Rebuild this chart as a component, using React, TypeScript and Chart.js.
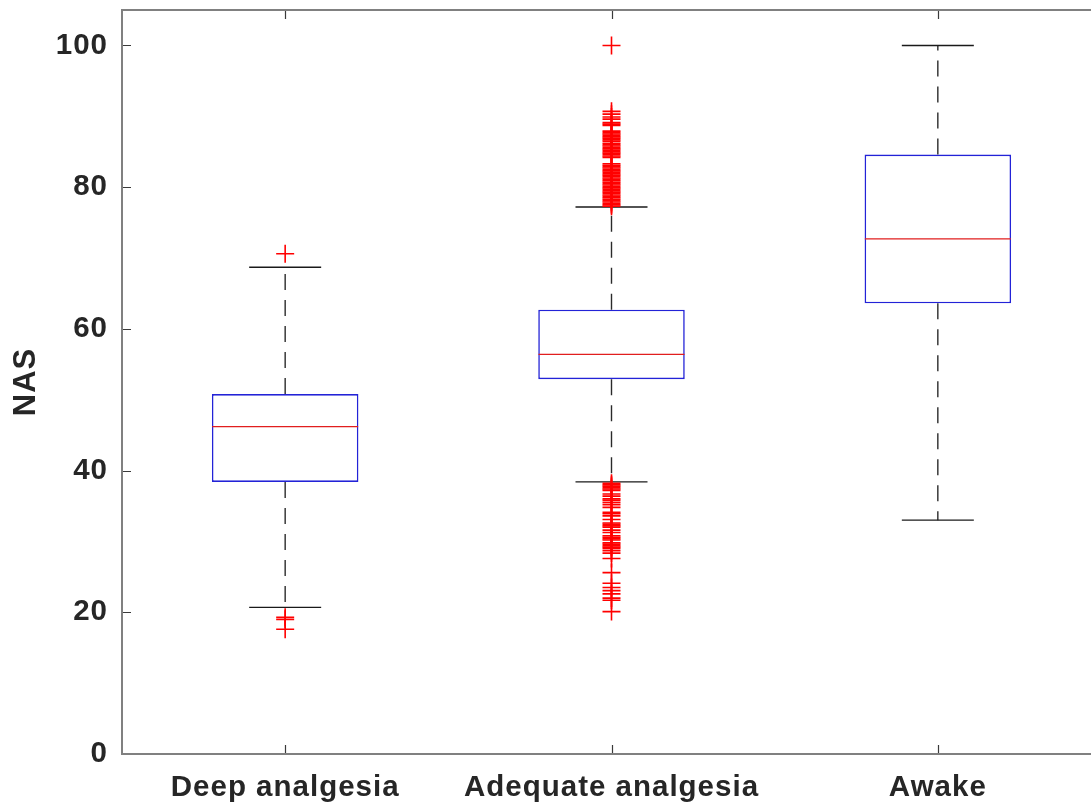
import React, { useEffect, useRef } from 'react';
import { Chart, registerables } from 'chart.js';

Chart.register(...registerables);

const categories = ['Deep analgesia', 'Adequate analgesia', 'Awake'];
const q1 = [38.4, 52.9, 63.6];
const medians = [46.2, 56.4, 72.7];
const q3 = [50.8, 62.7, 84.6];
const lowerWhisker = [20.7, 38.4, 33.0];
const upperWhisker = [68.7, 77.2, 100];
const deepOutliers = [70.6, 19.3, 19.0, 17.6];
const adequateOutliersHigh = [
  100,
  90.7, 90.3, 89.9, 89.6,
  89.1, 88.9, 88.7,
  87.9, 87.7, 87.5, 87.3, 87.1, 86.9, 86.7, 86.5,
  86.2, 86.0, 85.8, 85.6, 85.4, 85.2, 85.0, 84.8, 84.6, 84.4, 84.2,
  83.3, 83.1, 82.9, 82.7, 82.5, 82.3, 82.1, 81.9, 81.7, 81.5, 81.3, 81.1,
  80.9, 80.7, 80.5, 80.3, 80.1, 79.9, 79.7, 79.5, 79.3, 79.1, 78.9, 78.7,
  78.5, 78.3, 78.1, 77.9, 77.7, 77.5, 77.3,
];
const adequateOutliersLow = [
  38.2, 38.0, 37.8, 37.6, 37.4, 37.2,
  36.7, 36.4,
  36.0, 35.8, 35.5,
  35.2, 34.8,
  34.1, 33.9, 33.6,
  33.1,
  32.6, 32.4, 32.2, 32.0,
  31.6, 31.25,
  30.8, 30.6, 30.4, 30.2,
  29.8, 29.6, 29.4, 29.2, 29.0, 28.7,
  28.35, 27.6, 25.6, 24.1, 23.5, 23.06, 22.6, 22.0, 21.7, 20.1,
];
const awakeOutliers: number[] = [];
const yTicks = [0, 20, 40, 60, 80, 100];
const yAxisTitle = 'NAS';

const FONT = "'Liberation Sans', Arial, Helvetica, sans-serif";
const TEXT_COLOR = '#262626';

const spacingPlugin = {
  id: 'letterSpacing',
  beforeUpdate(chart: any) {
    chart.ctx.letterSpacing = '1px';
  },
  beforeDraw(chart: any) {
    chart.ctx.letterSpacing = '1px';
  },
};

const framePlugin = {
  id: 'frame',
  afterDraw(chart: any) {
    const { ctx, chartArea } = chart;
    const { left, right, top, bottom } = chartArea;
    const xs = chart.scales.x;
    const ys = chart.scales.y;
    const tick = 9;
    ctx.save();
    ctx.strokeStyle = '#3a3a3a';
    ctx.lineWidth = 1.2;
    ctx.beginPath();
    yTicks.forEach((v) => {
      const y = Math.round(ys.getPixelForValue(v)) + 0.5;
      ctx.moveTo(left, y);
      ctx.lineTo(left + tick, y);
      ctx.moveTo(right, y);
      ctx.lineTo(right - tick, y);
    });
    categories.forEach((_, i) => {
      const x = Math.round(xs.getPixelForValue(i)) + 0.5;
      ctx.moveTo(x, top);
      ctx.lineTo(x, top + tick);
      ctx.moveTo(x, bottom);
      ctx.lineTo(x, bottom - tick);
    });
    ctx.stroke();
    ctx.strokeStyle = '#808080';
    ctx.lineWidth = 2;
    ctx.strokeRect(left, top, right - left, bottom - top);
    ctx.restore();
  },
};

export default function App() {
  const canvasRef = useRef<HTMLCanvasElement | null>(null);

  useEffect(() => {
    document.body.style.overflow = 'hidden';
    const canvas = canvasRef.current;
    if (!canvas) return;

    const whiskerData: any[] = [];
    categories.forEach((c, i) => {
      whiskerData.push({ x: c, y: q3[i] });
      whiskerData.push({ x: c, y: upperWhisker[i] });
      whiskerData.push({ x: c, y: null });
      whiskerData.push({ x: c, y: q1[i] });
      whiskerData.push({ x: c, y: lowerWhisker[i] });
      whiskerData.push({ x: c, y: null });
    });

    const capData: any[] = [];
    categories.forEach((c, i) => {
      capData.push({ x: c, y: upperWhisker[i] });
      capData.push({ x: c, y: lowerWhisker[i] });
    });

    const outlierData: any[] = [];
    deepOutliers.forEach((v) => outlierData.push({ x: categories[0], y: v }));
    adequateOutliersHigh.forEach((v) => outlierData.push({ x: categories[1], y: v }));
    adequateOutliersLow.forEach((v) => outlierData.push({ x: categories[1], y: v }));
    awakeOutliers.forEach((v) => outlierData.push({ x: categories[2], y: v }));

    const chart = new Chart(canvas, {
      type: 'bar',
      data: {
        labels: categories,
        datasets: [
          {
            type: 'line',
            label: 'outliers',
            data: outlierData,
            showLine: false,
            pointStyle: 'cross',
            pointRadius: 9,
            pointHoverRadius: 9,
            pointBorderColor: '#ff0000',
            pointBackgroundColor: '#ff0000',
            pointBorderWidth: 1.6,
            order: 1,
          } as any,
          {
            type: 'line',
            label: 'medians',
            data: categories.map((c, i) => ({ x: c, y: medians[i] })),
            showLine: false,
            pointStyle: 'line',
            pointRadius: 73,
            pointHoverRadius: 73,
            pointBorderColor: 'rgb(225,30,30)',
            pointBorderWidth: 1.4,
            order: 2,
          } as any,
          {
            type: 'line',
            label: 'caps',
            data: capData,
            showLine: false,
            pointStyle: 'line',
            pointRadius: 36,
            pointHoverRadius: 36,
            pointBorderColor: '#1a1a1a',
            pointBorderWidth: 1.4,
            order: 3,
          } as any,
          {
            type: 'line',
            label: 'whiskers',
            data: whiskerData,
            showLine: true,
            spanGaps: false,
            borderColor: '#2a2a2a',
            borderWidth: 1.4,
            borderDash: [16, 10],
            pointRadius: 0,
            pointHoverRadius: 0,
            order: 4,
          } as any,
          {
            type: 'bar',
            label: 'boxes',
            data: categories.map((_, i) => [q1[i], q3[i]]),
            backgroundColor: 'rgba(255,255,255,1)',
            borderColor: 'rgb(35,35,215)',
            borderWidth: 1.6,
            borderSkipped: false,
            barPercentage: 0.449,
            categoryPercentage: 1,
            order: 5,
          } as any,
        ],
      },
      options: {
        responsive: false,
        animation: false,
        events: [],
        layout: { autoPadding: false, padding: { left: 0, right: 9, top: 10, bottom: 0 } },
        plugins: {
          legend: { display: false },
          tooltip: { enabled: false },
          title: { display: false },
        },
        scales: {
          x: {
            type: 'category',
            offset: true,
            grid: { display: false, drawTicks: false },
            border: { display: false },
            ticks: {
              autoSkip: false,
              maxRotation: 0,
              minRotation: 0,
              padding: 16,
              color: TEXT_COLOR,
              font: { family: FONT, size: 29.5, weight: 'bold' },
            },
            afterFit(scale: any) {
              scale.height = 53;
              scale.paddingLeft = 0;
              scale.paddingRight = 0;
            },
          },
          y: {
            type: 'linear',
            min: 0,
            max: 105,
            grid: { display: false, drawTicks: false },
            border: { display: false },
            ticks: {
              stepSize: 20,
              includeBounds: false,
              padding: 14,
              color: TEXT_COLOR,
              font: { family: FONT, size: 29.5, weight: 'bold' },
              callback: (v: any) => (yTicks.includes(Number(v)) ? String(v) : ''),
            },
            title: {
              display: true,
              text: yAxisTitle,
              color: TEXT_COLOR,
              font: { family: FONT, size: 31, weight: 'bold' },
              padding: { top: 8, bottom: 0 },
            },
            afterFit(scale: any) {
              scale.width = 122;
              scale.paddingTop = 0;
              scale.paddingBottom = 0;
            },
          },
        },
      } as any,
      plugins: [spacingPlugin, framePlugin],
    });

    return () => {
      chart.destroy();
    };
  }, []);

  return (
    <div style={{ position: 'fixed', left: 0, top: 0, width: 1110, height: 807, background: '#fff' }}>
      <canvas ref={canvasRef} width={1110} height={807} style={{ width: 1110, height: 807, display: 'block' }} />
    </div>
  );
}
